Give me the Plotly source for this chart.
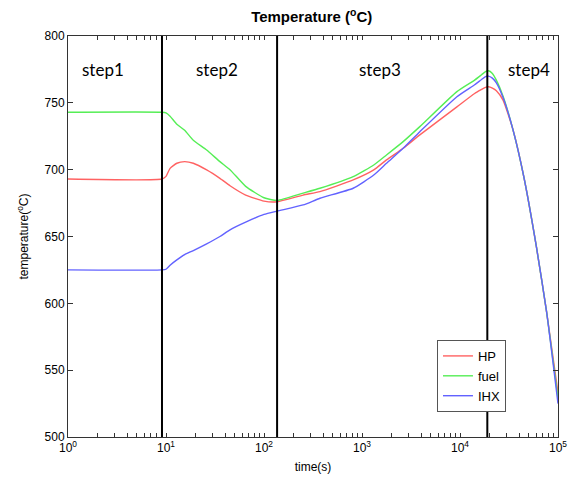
import math
import plotly.graph_objects as go

time_s = [1, 9.1, 10, 11, 12.9, 15.5, 19, 26, 35.5, 45, 65, 100, 136, 251, 372, 813, 1318,
          1778, 2630, 3890, 9300, 14100, 16600, 18200, 19500, 21400, 23500, 27500, 34700,
          44700, 60300, 76700, 100000]
hp = [693, 693, 695, 701, 704.8, 706, 704.8, 699.8, 693.5, 688, 681, 676.5, 676, 681, 683.6,
      692.3, 699.8, 707.3, 716, 726, 747, 757, 760, 761.6, 762, 761, 759, 752, 730, 695, 642,
      593, 533]
fuel = [743, 743, 742.5, 740, 734, 729.5, 722, 714.7, 706, 700, 687.5, 679, 677, 682.5, 686.1,
        694.8, 703.5, 711, 721, 732.2, 758.4, 767, 771, 773.3, 774, 772, 767, 755, 730, 695,
        642, 593, 529]
ihx = [625, 625, 625.5, 628.5, 632.5, 636.5, 639.5, 644.5, 650, 655, 660.7, 666.5, 669, 673.6,
       678.6, 686.1, 696, 704.8, 716, 728.4, 754.6, 763.5, 767.5, 769.6, 770, 768.5, 765, 754,
       730, 695, 642, 593, 525]

step_bounds = [9.1, 136, 19000]
step_names = ["step1", "step2", "step3", "step4"]
step_label_t = [2.28, 33, 1510, 51000]
step_label_y = 774.6

major_vals = [1, 10, 100, 1000, 10000, 100000]
major_text = ["10<sup>0</sup>", "10<sup>1</sup>", "10<sup>2</sup>", "10<sup>3</sup>",
              "10<sup>4</sup>", "10<sup>5</sup>"]
minor_vals = [m * 10 ** d for d in range(5) for m in range(2, 10)]
y_tickvals = [500, 550, 600, 650, 700, 750, 800]

fig = go.Figure()
series = [("HP", hp, "#ff6262"), ("fuel", fuel, "#55ee55"), ("IHX", ihx, "#6262ff")]
for name, vals, col in series:
    fig.add_trace(go.Scatter(x=time_s, y=vals, name=name, mode="lines",
                             line=dict(color=col, width=1.4, shape="spline", smoothing=0.5)))

for b in step_bounds:
    fig.add_shape(type="line", xref="x", yref="paper", x0=b, x1=b, y0=0, y1=1,
                  line=dict(color="black", width=2))

for nm, lt in zip(step_names, step_label_t):
    fig.add_annotation(x=math.log10(lt), y=step_label_y, xref="x", yref="y", text=nm,
                       showarrow=False,
                       font=dict(family="Lato, Open Sans, sans-serif", size=17, color="black"))

tickvals_x = major_vals + minor_vals
ticktext_x = major_text + [""] * len(minor_vals)

axis_font = dict(family="Liberation Sans, Arial, sans-serif", size=12, color="black")
fig.update_layout(
    width=572, height=488,
    margin=dict(l=68, r=14, t=36, b=51),
    paper_bgcolor="white", plot_bgcolor="white",
    title=dict(text="<b>Temperature (<sup>o</sup>C)</b>", x=0.545, xanchor="center",
               y=1 - 17 / 488, yanchor="middle",
               font=dict(family="Liberation Sans, Arial, sans-serif", size=15, color="black")),
    font=axis_font,
    legend=dict(x=0.753, y=0.242, xanchor="left", yanchor="top",
                bgcolor="white", bordercolor="#555", borderwidth=1,
                font=dict(family="Liberation Sans, Arial, sans-serif", size=13, color="black"),
                traceorder="normal"),
    xaxis=dict(type="log", range=[0, 5], tickmode="array", tickvals=tickvals_x,
               ticktext=ticktext_x, automargin=False, ticklabeloverflow="allow",
               ticks="inside", ticklen=4, tickcolor="#333", showline=True, linecolor="#333",
               linewidth=1, mirror="ticks", showgrid=False, zeroline=False,
               title=dict(text="time(s)", font=axis_font, standoff=8), tickfont=axis_font),
    yaxis=dict(range=[500, 800], tickvals=y_tickvals, ticks="inside", ticklen=5,
               automargin=False,
               tickcolor="#333", showline=True, linecolor="#333", linewidth=1, mirror="ticks",
               showgrid=False, zeroline=False,
               title=dict(text="temperature(<sup>o</sup>C)", font=axis_font, standoff=13),
               tickfont=axis_font),
)

fig.write_html("out.html", config={"displayModeBar": False},
               post_script="document.body.style.margin='0';document.body.style.overflow='hidden';")
